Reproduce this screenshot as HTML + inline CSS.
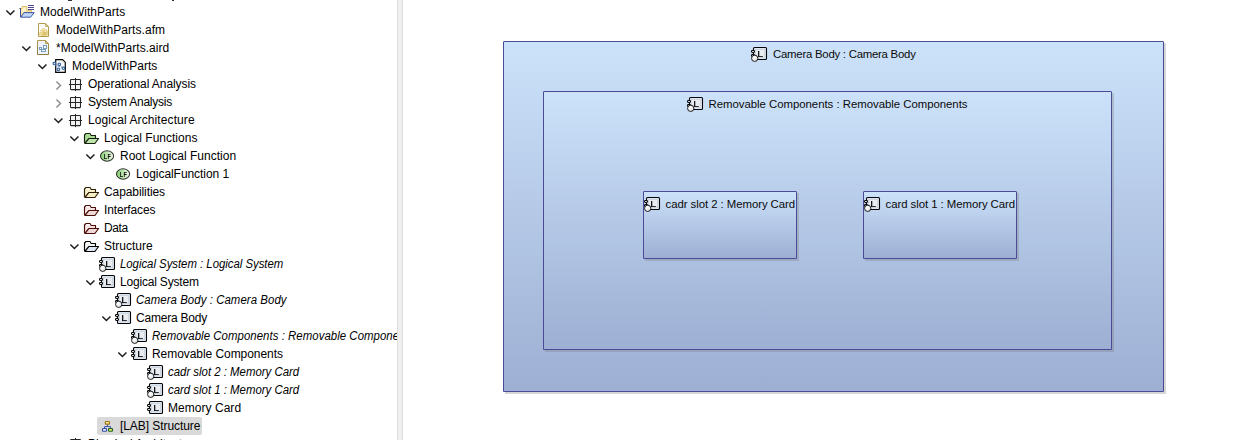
<!DOCTYPE html>
<html lang="en"><head><meta charset="utf-8"><title>ModelWithParts - [LAB] Structure</title>
<style>
html,body{margin:0;padding:0;background:#fff}
body{width:1244px;height:440px;overflow:hidden;position:relative;font-family:"Liberation Sans",sans-serif;font-size:12px;color:#111}
.a{position:absolute;display:block;overflow:visible}
svg.a{will-change:transform}
#tree{position:absolute;left:0;top:0;width:397px;height:440px;overflow:hidden;background:#fff}
.t{position:absolute;white-space:nowrap;height:18px;line-height:18px;font-size:12px;color:#000}
.i{font-style:italic;transform:scaleX(.95);transform-origin:0 0}
#sel{position:absolute;left:97px;top:417px;width:105px;height:18px;background:#d9d9d9;border-radius:2px}
#sash{position:absolute;left:397px;top:0;width:6px;height:440px;background:#efefed;border-left:1px solid #dfdfdf;border-right:1px solid #dcdcdc;box-sizing:border-box}
.box{position:absolute;box-sizing:border-box;border:1px solid #4a4a97;border-radius:1px 1px 0 0;box-shadow:2px 2px 0 rgba(118,118,118,.3)}
.lbl{position:absolute;white-space:nowrap;font-size:11.4px;line-height:16px;height:16px;color:#0a0a0a}
</style></head><body>
<div id="tree">
<div id="sel"></div>

<div class="a" style="left:68px;top:0;width:4px;height:1px;background:#1a1a1a;opacity:.9"></div><div class="a" style="left:172px;top:0;width:2px;height:1px;background:#1a1a1a;opacity:.9"></div>
<svg class="a" style="left:2px;top:5px" width="16" height="16" viewBox="0 0 16 16"><polyline points="4.35,5.55 8.4,9.55 12.45,5.55" fill="none" stroke="#1c1c1c" stroke-width="1.5"/></svg>
<svg class="a" style="left:19px;top:4px" width="16" height="16" viewBox="0 0 16 16"><path d="M1.5 12.8V4.5H3.2V2.5H7.8V6.6H12.6V8.5H5.5Z" fill="#fbe9a4" stroke="#dcbc68" stroke-width="1"/> <path d="M3.8 3.6H7V7.4H2.6V5.4H3.8Z" fill="#fff5cc" stroke="none"/> <path d="M0.4 4.5H2" stroke="#6a5a5a" stroke-width="1" fill="none"/> <path d="M1.5 5V13" stroke="#3c4aa4" stroke-width="1" fill="none"/> <path d="M4.9 8.6H15.2L11.6 13.2H1.9Z" fill="#bcd8f6" stroke="#3444a2" stroke-width=".9" stroke-linejoin="round"/> <path d="M9 1.5H15M9 3.5H15M9 5.5H15" stroke="#4b4a92" stroke-width="1" fill="none"/></svg>
<div class="t" style="left:40px;top:3px;letter-spacing:0.04px">ModelWithParts</div>
<svg class="a" style="left:35px;top:22px" width="16" height="16" viewBox="0 0 16 16"><path d="M3.5 1.5H10.5L13.5 4.5V14.5H3.5Z" fill="#fcfcfa" stroke="#b39c50" stroke-width="1"/> <path d="M10.5 1.5V4.5H13.5Z" fill="#ecdca0" stroke="#b39c50" stroke-width=".8"/> <path d="M4.2 14V11L5.4 8.6L7.6 6.2L9 5.8L10.4 7.2L12 7.6L12.9 9.4V14Z" fill="#e6d086" stroke="none"/> <path d="M7 7.4L8.6 6.6L9.8 7.6L8.2 8.6Z" fill="#f6edc6"/> <path d="M5.4 9.4H7M9.6 9H11.4M4.6 13.5H6M11.6 13.5H12.8" stroke="#fbf7e6" stroke-width="1" fill="none"/> <path d="M8.2 10H11V13H8.2Z" fill="#dcc26c"/> <path d="M5.4 10.6H7.4V12.6H5.4Z" fill="#eddc9c"/></svg>
<div class="t" style="left:56px;top:21px;letter-spacing:0.06px">ModelWithParts.afm</div>
<svg class="a" style="left:18px;top:41px" width="16" height="16" viewBox="0 0 16 16"><polyline points="4.35,5.55 8.4,9.55 12.45,5.55" fill="none" stroke="#1c1c1c" stroke-width="1.5"/></svg>
<svg class="a" style="left:35px;top:40px" width="16" height="16" viewBox="0 0 16 16"><defs><linearGradient id="ag3" x1="0" y1="0" x2="0" y2="1"><stop offset="0" stop-color="#b09848"/><stop offset="1" stop-color="#8a7c40"/></linearGradient></defs> <path d="M2.5 0.5H10.5L13.5 3.5V14.5H2.5Z" fill="#eef3fb" stroke="url(#ag3)" stroke-width="1"/> <path d="M10.5 0.5V3.5H13.5Z" fill="#e2cc84" stroke="#a89040" stroke-width=".8"/> <rect x="8.5" y="5.5" width="3" height="3" fill="#f9fbfd" stroke="#6f9abd" stroke-width=".95"/> <rect x="4.5" y="7.5" width="2" height="2" fill="#f9fbfd" stroke="#6f9abd" stroke-width=".95"/> <rect x="6.5" y="9.5" width="4" height="2" fill="#f9fbfd" stroke="#6f9abd" stroke-width=".95"/></svg>
<div class="t" style="left:56px;top:39px;letter-spacing:0.02px">*ModelWithParts.aird</div>
<svg class="a" style="left:34px;top:59px" width="16" height="16" viewBox="0 0 16 16"><polyline points="4.35,5.55 8.4,9.55 12.45,5.55" fill="none" stroke="#1c1c1c" stroke-width="1.5"/></svg>
<svg class="a" style="left:51px;top:58px" width="16" height="16" viewBox="0 0 16 16"><path d="M4.7 1.7H11.6L14.3 4.4V14.3H4.7Z" fill="#f7fafd" stroke="#050505" stroke-width="1.2"/> <path d="M11.4 2.4V4.6H13.6Z" fill="#d8d2b8" stroke="none"/> <path d="M3.3 5.5L12.4 10.3M8.3 6.4L7.4 11.4M3.3 5.5L7.4 11.4M8.3 6.4L12.4 10.3" stroke="#5a86ba" stroke-width=".9" stroke-dasharray="1 .8" fill="none"/> <rect x="2.1" y="4.3" width="2.4" height="2.4" rx=".9" fill="#f0f5fb" stroke="#3a68a0" stroke-width="1.15"/> <rect x="7.1" y="5.2" width="2.4" height="2.4" rx=".9" fill="#f0f5fb" stroke="#3a68a0" stroke-width="1.15"/> <rect x="6.2" y="10.2" width="2.4" height="2.4" rx=".9" fill="#f0f5fb" stroke="#3a68a0" stroke-width="1.15"/> <rect x="11.2" y="9.1" width="2.4" height="2.4" rx=".9" fill="#f0f5fb" stroke="#3a68a0" stroke-width="1.15"/></svg>
<div class="t" style="left:72px;top:57px;letter-spacing:0.05px">ModelWithParts</div>
<svg class="a" style="left:50px;top:77px" width="16" height="16" viewBox="0 0 16 16"><polyline points="6.4,4.4 10.5,8.45 6.4,12.5" fill="none" stroke="#8e8e8e" stroke-width="1.45"/></svg>
<svg class="a" style="left:67px;top:76px" width="16" height="16" viewBox="0 0 16 16"><rect x="3.5" y="3.5" width="10" height="10.1" rx=".6" fill="#f4f4f4" stroke="#262626" stroke-width="1.05"/> <path d="M8.5 1.9V15.1M1.9 8.5H15" stroke="#262626" stroke-width="1" fill="none"/></svg>
<div class="t" style="left:88px;top:75px;letter-spacing:-0.07px">Operational Analysis</div>
<svg class="a" style="left:50px;top:95px" width="16" height="16" viewBox="0 0 16 16"><polyline points="6.4,4.4 10.5,8.45 6.4,12.5" fill="none" stroke="#8e8e8e" stroke-width="1.45"/></svg>
<svg class="a" style="left:67px;top:94px" width="16" height="16" viewBox="0 0 16 16"><rect x="3.5" y="3.5" width="10" height="10.1" rx=".6" fill="#f4f4f4" stroke="#262626" stroke-width="1.05"/> <path d="M8.5 1.9V15.1M1.9 8.5H15" stroke="#262626" stroke-width="1" fill="none"/></svg>
<div class="t" style="left:88px;top:93px;letter-spacing:-0.22px">System Analysis</div>
<svg class="a" style="left:50px;top:113px" width="16" height="16" viewBox="0 0 16 16"><polyline points="4.35,5.55 8.4,9.55 12.45,5.55" fill="none" stroke="#1c1c1c" stroke-width="1.5"/></svg>
<svg class="a" style="left:67px;top:112px" width="16" height="16" viewBox="0 0 16 16"><rect x="3.5" y="3.5" width="10" height="10.1" rx=".6" fill="#f4f4f4" stroke="#262626" stroke-width="1.05"/> <path d="M8.5 1.9V15.1M1.9 8.5H15" stroke="#262626" stroke-width="1" fill="none"/></svg>
<div class="t" style="left:88px;top:111px;letter-spacing:0.1px">Logical Architecture</div>
<svg class="a" style="left:66px;top:131px" width="16" height="16" viewBox="0 0 16 16"><polyline points="4.35,5.55 8.4,9.55 12.45,5.55" fill="none" stroke="#1c1c1c" stroke-width="1.5"/></svg>
<svg class="a" style="left:83px;top:130px" width="16" height="16" viewBox="0 0 16 16"><path d="M1.5 12.6V5L3 3.5H7L8.2 5.5H12.5V8.5H5.9L2 13.2Z" fill="#a8d992" stroke="#16200f" stroke-width="1.15" stroke-linejoin="round"/> <path d="M3.2 4.3H6.8L7.4 5.3H3Z" fill="#b6e0a2" stroke="none"/> <path d="M5.9 8.5H15.6L11.9 13.5H2.1Z" fill="#bfe3ad" stroke="#16200f" stroke-width="1.15" stroke-linejoin="round"/></svg>
<div class="t" style="left:104px;top:129px">Logical Functions</div>
<svg class="a" style="left:82px;top:149px" width="16" height="16" viewBox="0 0 16 16"><polyline points="4.35,5.55 8.4,9.55 12.45,5.55" fill="none" stroke="#1c1c1c" stroke-width="1.5"/></svg>
<svg class="a" style="left:99px;top:148px" width="16" height="16" viewBox="0 0 16 16"><defs><linearGradient id="lfg9" x1="0" y1="0" x2="1" y2="0"><stop offset="0" stop-color="#86cf72"/><stop offset=".45" stop-color="#b6e0a8"/><stop offset="1" stop-color="#f4faf0"/></linearGradient></defs> <ellipse cx="8.05" cy="8" rx="6.55" ry="5.2" fill="url(#lfg9)" stroke="#2c302c" stroke-width="1.05"/> <text transform="translate(4.7 10.7) scale(.8 1)" font-family="Liberation Sans, sans-serif" font-size="6.9" font-weight="bold" fill="#0a0a0a" letter-spacing="0.6">LF</text></svg>
<div class="t" style="left:120px;top:147px">Root Logical Function</div>
<svg class="a" style="left:115px;top:166px" width="16" height="16" viewBox="0 0 16 16"><defs><linearGradient id="lfg10" x1="0" y1="0" x2="1" y2="0"><stop offset="0" stop-color="#86cf72"/><stop offset=".45" stop-color="#b6e0a8"/><stop offset="1" stop-color="#f4faf0"/></linearGradient></defs> <ellipse cx="8.05" cy="8" rx="6.55" ry="5.2" fill="url(#lfg10)" stroke="#2c302c" stroke-width="1.05"/> <text transform="translate(4.7 10.7) scale(.8 1)" font-family="Liberation Sans, sans-serif" font-size="6.9" font-weight="bold" fill="#0a0a0a" letter-spacing="0.6">LF</text></svg>
<div class="t" style="left:136px;top:165px;letter-spacing:-0.06px">LogicalFunction 1</div>
<svg class="a" style="left:83px;top:184px" width="16" height="16" viewBox="0 0 16 16"><path d="M1.5 12.6V5L3 3.5H7L8.2 5.5H12.5V8.5H5.9L2 13.2Z" fill="#f6f1cc" stroke="#2e1c04" stroke-width="1.15" stroke-linejoin="round"/> <path d="M3.2 4.3H6.8L7.4 5.3H3Z" fill="#ffffff" stroke="none"/> <path d="M5.9 8.5H15.6L11.9 13.5H2.1Z" fill="#f3eec4" stroke="#2e1c04" stroke-width="1.15" stroke-linejoin="round"/></svg>
<div class="t" style="left:104px;top:183px;letter-spacing:-0.09px">Capabilities</div>
<svg class="a" style="left:83px;top:202px" width="16" height="16" viewBox="0 0 16 16"><path d="M1.5 12.6V5L3 3.5H7L8.2 5.5H12.5V8.5H5.9L2 13.2Z" fill="#f4e3e3" stroke="#4a0c06" stroke-width="1.15" stroke-linejoin="round"/> <path d="M3.2 4.3H6.8L7.4 5.3H3Z" fill="#ffffff" stroke="none"/> <path d="M5.9 8.5H15.6L11.9 13.5H2.1Z" fill="#efd8d8" stroke="#4a0c06" stroke-width="1.15" stroke-linejoin="round"/></svg>
<div class="t" style="left:104px;top:201px;letter-spacing:-0.14px">Interfaces</div>
<svg class="a" style="left:83px;top:220px" width="16" height="16" viewBox="0 0 16 16"><path d="M1.5 12.6V5L3 3.5H7L8.2 5.5H12.5V8.5H5.9L2 13.2Z" fill="#f4e3e3" stroke="#4a0c06" stroke-width="1.15" stroke-linejoin="round"/> <path d="M3.2 4.3H6.8L7.4 5.3H3Z" fill="#ffffff" stroke="none"/> <path d="M5.9 8.5H15.6L11.9 13.5H2.1Z" fill="#efd8d8" stroke="#4a0c06" stroke-width="1.15" stroke-linejoin="round"/></svg>
<div class="t" style="left:104px;top:219px;letter-spacing:-0.4px">Data</div>
<svg class="a" style="left:66px;top:239px" width="16" height="16" viewBox="0 0 16 16"><polyline points="4.35,5.55 8.4,9.55 12.45,5.55" fill="none" stroke="#1c1c1c" stroke-width="1.5"/></svg>
<svg class="a" style="left:83px;top:238px" width="16" height="16" viewBox="0 0 16 16"><path d="M1.5 12.6V5L3 3.5H7L8.2 5.5H12.5V8.5H5.9L2 13.2Z" fill="#f1f3f5" stroke="#000000" stroke-width="1.15" stroke-linejoin="round"/> <path d="M3.2 4.3H6.8L7.4 5.3H3Z" fill="#ffffff" stroke="none"/> <path d="M5.9 8.5H15.6L11.9 13.5H2.1Z" fill="#dde6f3" stroke="#000000" stroke-width="1.15" stroke-linejoin="round"/></svg>
<div class="t" style="left:104px;top:237px">Structure</div>
<svg class="a" style="left:99px;top:256px" width="16" height="16" viewBox="0 0 16 16"><rect x="2.5" y="1.5" width="13" height="12" rx="1" fill="#dde7f3" stroke="#050505" stroke-width="1.1"/> <rect x="4.5" y="3.5" width="9" height="8" fill="#e9edf1" stroke="#cfd6dd" stroke-width="1"/> <text transform="translate(6.3 10.95) scale(1.06 1)" font-family="Liberation Sans, sans-serif" font-size="9.9" fill="#000" stroke="#000" stroke-width=".22">L</text> <defs><radialGradient id="pg15" cx=".4" cy=".35" r=".75"><stop offset="0" stop-color="#ffffff"/><stop offset="1" stop-color="#dcdcdc"/></radialGradient></defs> <rect x="0.5" y="4.5" width="3" height="2" rx=".9" fill="#fff" stroke="#050505" stroke-width="1.1"/> <rect x="0.5" y="8.5" width="3" height="2" rx=".9" fill="#fff" stroke="#050505" stroke-width="1.1"/> <circle cx="3.7" cy="12.3" r="3.15" fill="url(#pg15)" stroke="#0a0a0a" stroke-width=".9"/></svg>
<div class="t i" style="left:120px;top:255px;letter-spacing:-0.03px">Logical System : Logical System</div>
<svg class="a" style="left:82px;top:275px" width="16" height="16" viewBox="0 0 16 16"><polyline points="4.35,5.55 8.4,9.55 12.45,5.55" fill="none" stroke="#1c1c1c" stroke-width="1.5"/></svg>
<svg class="a" style="left:99px;top:274px" width="16" height="16" viewBox="0 0 16 16"><rect x="2.5" y="1.5" width="13" height="12" rx="1" fill="#dde7f3" stroke="#050505" stroke-width="1.1"/> <rect x="4.5" y="3.5" width="9" height="8" fill="#e9edf1" stroke="#cfd6dd" stroke-width="1"/> <text transform="translate(6.3 10.95) scale(1.06 1)" font-family="Liberation Sans, sans-serif" font-size="9.9" fill="#000" stroke="#000" stroke-width=".22">L</text> <rect x="0.5" y="4.5" width="3" height="2" rx=".9" fill="#fff" stroke="#050505" stroke-width="1.1"/> <rect x="0.5" y="8.5" width="3" height="2" rx=".9" fill="#fff" stroke="#050505" stroke-width="1.1"/></svg>
<div class="t" style="left:120px;top:273px;letter-spacing:-0.19px">Logical System</div>
<svg class="a" style="left:115px;top:292px" width="16" height="16" viewBox="0 0 16 16"><rect x="2.5" y="1.5" width="13" height="12" rx="1" fill="#dde7f3" stroke="#050505" stroke-width="1.1"/> <rect x="4.5" y="3.5" width="9" height="8" fill="#e9edf1" stroke="#cfd6dd" stroke-width="1"/> <text transform="translate(6.3 10.95) scale(1.06 1)" font-family="Liberation Sans, sans-serif" font-size="9.9" fill="#000" stroke="#000" stroke-width=".22">L</text> <defs><radialGradient id="pg17" cx=".4" cy=".35" r=".75"><stop offset="0" stop-color="#ffffff"/><stop offset="1" stop-color="#dcdcdc"/></radialGradient></defs> <rect x="0.5" y="4.5" width="3" height="2" rx=".9" fill="#fff" stroke="#050505" stroke-width="1.1"/> <rect x="0.5" y="8.5" width="3" height="2" rx=".9" fill="#fff" stroke="#050505" stroke-width="1.1"/> <circle cx="3.7" cy="12.3" r="3.15" fill="url(#pg17)" stroke="#0a0a0a" stroke-width=".9"/></svg>
<div class="t i" style="left:136px;top:291px;letter-spacing:0.07px">Camera Body : Camera Body</div>
<svg class="a" style="left:98px;top:311px" width="16" height="16" viewBox="0 0 16 16"><polyline points="4.35,5.55 8.4,9.55 12.45,5.55" fill="none" stroke="#1c1c1c" stroke-width="1.5"/></svg>
<svg class="a" style="left:115px;top:310px" width="16" height="16" viewBox="0 0 16 16"><rect x="2.5" y="1.5" width="13" height="12" rx="1" fill="#dde7f3" stroke="#050505" stroke-width="1.1"/> <rect x="4.5" y="3.5" width="9" height="8" fill="#e9edf1" stroke="#cfd6dd" stroke-width="1"/> <text transform="translate(6.3 10.95) scale(1.06 1)" font-family="Liberation Sans, sans-serif" font-size="9.9" fill="#000" stroke="#000" stroke-width=".22">L</text> <rect x="0.5" y="4.5" width="3" height="2" rx=".9" fill="#fff" stroke="#050505" stroke-width="1.1"/> <rect x="0.5" y="8.5" width="3" height="2" rx=".9" fill="#fff" stroke="#050505" stroke-width="1.1"/></svg>
<div class="t" style="left:136px;top:309px;letter-spacing:-0.22px">Camera Body</div>
<svg class="a" style="left:131px;top:328px" width="16" height="16" viewBox="0 0 16 16"><rect x="2.5" y="1.5" width="13" height="12" rx="1" fill="#dde7f3" stroke="#050505" stroke-width="1.1"/> <rect x="4.5" y="3.5" width="9" height="8" fill="#e9edf1" stroke="#cfd6dd" stroke-width="1"/> <text transform="translate(6.3 10.95) scale(1.06 1)" font-family="Liberation Sans, sans-serif" font-size="9.9" fill="#000" stroke="#000" stroke-width=".22">L</text> <defs><radialGradient id="pg19" cx=".4" cy=".35" r=".75"><stop offset="0" stop-color="#ffffff"/><stop offset="1" stop-color="#dcdcdc"/></radialGradient></defs> <rect x="0.5" y="4.5" width="3" height="2" rx=".9" fill="#fff" stroke="#050505" stroke-width="1.1"/> <rect x="0.5" y="8.5" width="3" height="2" rx=".9" fill="#fff" stroke="#050505" stroke-width="1.1"/> <circle cx="3.7" cy="12.3" r="3.15" fill="url(#pg19)" stroke="#0a0a0a" stroke-width=".9"/></svg>
<div class="t i" style="left:152px;top:327px;letter-spacing:0.05px">Removable Components : Removable Components</div>
<svg class="a" style="left:114px;top:347px" width="16" height="16" viewBox="0 0 16 16"><polyline points="4.35,5.55 8.4,9.55 12.45,5.55" fill="none" stroke="#1c1c1c" stroke-width="1.5"/></svg>
<svg class="a" style="left:131px;top:346px" width="16" height="16" viewBox="0 0 16 16"><rect x="2.5" y="1.5" width="13" height="12" rx="1" fill="#dde7f3" stroke="#050505" stroke-width="1.1"/> <rect x="4.5" y="3.5" width="9" height="8" fill="#e9edf1" stroke="#cfd6dd" stroke-width="1"/> <text transform="translate(6.3 10.95) scale(1.06 1)" font-family="Liberation Sans, sans-serif" font-size="9.9" fill="#000" stroke="#000" stroke-width=".22">L</text> <rect x="0.5" y="4.5" width="3" height="2" rx=".9" fill="#fff" stroke="#050505" stroke-width="1.1"/> <rect x="0.5" y="8.5" width="3" height="2" rx=".9" fill="#fff" stroke="#050505" stroke-width="1.1"/></svg>
<div class="t" style="left:152px;top:345px;letter-spacing:-0.06px">Removable Components</div>
<svg class="a" style="left:147px;top:364px" width="16" height="16" viewBox="0 0 16 16"><rect x="2.5" y="1.5" width="13" height="12" rx="1" fill="#dde7f3" stroke="#050505" stroke-width="1.1"/> <rect x="4.5" y="3.5" width="9" height="8" fill="#e9edf1" stroke="#cfd6dd" stroke-width="1"/> <text transform="translate(6.3 10.95) scale(1.06 1)" font-family="Liberation Sans, sans-serif" font-size="9.9" fill="#000" stroke="#000" stroke-width=".22">L</text> <defs><radialGradient id="pg21" cx=".4" cy=".35" r=".75"><stop offset="0" stop-color="#ffffff"/><stop offset="1" stop-color="#dcdcdc"/></radialGradient></defs> <rect x="0.5" y="4.5" width="3" height="2" rx=".9" fill="#fff" stroke="#050505" stroke-width="1.1"/> <rect x="0.5" y="8.5" width="3" height="2" rx=".9" fill="#fff" stroke="#050505" stroke-width="1.1"/> <circle cx="3.7" cy="12.3" r="3.15" fill="url(#pg21)" stroke="#0a0a0a" stroke-width=".9"/></svg>
<div class="t i" style="left:168px;top:363px">cadr slot 2 : Memory Card</div>
<svg class="a" style="left:147px;top:382px" width="16" height="16" viewBox="0 0 16 16"><rect x="2.5" y="1.5" width="13" height="12" rx="1" fill="#dde7f3" stroke="#050505" stroke-width="1.1"/> <rect x="4.5" y="3.5" width="9" height="8" fill="#e9edf1" stroke="#cfd6dd" stroke-width="1"/> <text transform="translate(6.3 10.95) scale(1.06 1)" font-family="Liberation Sans, sans-serif" font-size="9.9" fill="#000" stroke="#000" stroke-width=".22">L</text> <defs><radialGradient id="pg22" cx=".4" cy=".35" r=".75"><stop offset="0" stop-color="#ffffff"/><stop offset="1" stop-color="#dcdcdc"/></radialGradient></defs> <rect x="0.5" y="4.5" width="3" height="2" rx=".9" fill="#fff" stroke="#050505" stroke-width="1.1"/> <rect x="0.5" y="8.5" width="3" height="2" rx=".9" fill="#fff" stroke="#050505" stroke-width="1.1"/> <circle cx="3.7" cy="12.3" r="3.15" fill="url(#pg22)" stroke="#0a0a0a" stroke-width=".9"/></svg>
<div class="t i" style="left:168px;top:381px">card slot 1 : Memory Card</div>
<svg class="a" style="left:147px;top:400px" width="16" height="16" viewBox="0 0 16 16"><rect x="2.5" y="1.5" width="13" height="12" rx="1" fill="#dde7f3" stroke="#050505" stroke-width="1.1"/> <rect x="4.5" y="3.5" width="9" height="8" fill="#e9edf1" stroke="#cfd6dd" stroke-width="1"/> <text transform="translate(6.3 10.95) scale(1.06 1)" font-family="Liberation Sans, sans-serif" font-size="9.9" fill="#000" stroke="#000" stroke-width=".22">L</text> <rect x="0.5" y="4.5" width="3" height="2" rx=".9" fill="#fff" stroke="#050505" stroke-width="1.1"/> <rect x="0.5" y="8.5" width="3" height="2" rx=".9" fill="#fff" stroke="#050505" stroke-width="1.1"/></svg>
<div class="t" style="left:168px;top:399px;letter-spacing:0.04px">Memory Card</div>
<svg class="a" style="left:99px;top:418px" width="16" height="16" viewBox="0 0 16 16"><path d="M8.4 6.5V8.6M5.5 10.2V8.6H11.5V10.2" fill="none" stroke="#3a52b0" stroke-width="1"/> <rect x="6.3" y="3.5" width="4.2" height="2.6" rx=".7" fill="#fdf0a0" stroke="#9c7210" stroke-width="1.1"/> <rect x="3.5" y="10.5" width="4" height="2.7" rx=".8" fill="#e6f2fb" stroke="#3448a8" stroke-width="1.1"/> <rect x="9.5" y="10.5" width="4" height="2.7" rx=".8" fill="#d9e85c" stroke="#1f621f" stroke-width="1.1"/></svg>
<div class="t" style="left:120px;top:417px;letter-spacing:-0.07px">[LAB] Structure</div>
<svg class="a" style="left:50px;top:437px" width="16" height="16" viewBox="0 0 16 16"><polyline points="6.4,4.4 10.5,8.45 6.4,12.5" fill="none" stroke="#8e8e8e" stroke-width="1.45"/></svg>
<svg class="a" style="left:67px;top:436px" width="16" height="16" viewBox="0 0 16 16"><rect x="3.5" y="3.5" width="10" height="10.1" rx=".6" fill="#f4f4f4" stroke="#262626" stroke-width="1.05"/> <path d="M8.5 1.9V15.1M1.9 8.5H15" stroke="#262626" stroke-width="1" fill="none"/></svg>
<div class="t" style="left:88px;top:435px">Physical Architecture</div>
</div>
<div id="sash"></div>

<div class="box" style="left:503px;top:41px;width:661px;height:351px;background:linear-gradient(to bottom,#cce2fa 0%,#9dafd3 100%)"></div>
<div class="box" style="left:543px;top:91px;width:569px;height:259px;background:linear-gradient(to bottom,#cce2fa 0%,#9dafd3 100%)"></div>
<div class="box" style="left:643px;top:191px;width:154px;height:68px;background:linear-gradient(to bottom,#cce2fa 0%,#9dafd3 100%)"></div>
<div class="box" style="left:863px;top:191px;width:154px;height:68px;background:linear-gradient(to bottom,#cce2fa 0%,#9dafd3 100%)"></div>
<svg class="a" style="left:751px;top:46px" width="16" height="16" viewBox="0 0 16 16"><rect x="2.5" y="1.5" width="13" height="12" rx="1" fill="#dde7f3" stroke="#050505" stroke-width="1.1"/> <rect x="4.5" y="3.5" width="9" height="8" fill="#e9edf1" stroke="#cfd6dd" stroke-width="1"/> <text transform="translate(6.3 10.95) scale(1.06 1)" font-family="Liberation Sans, sans-serif" font-size="9.9" fill="#000" stroke="#000" stroke-width=".22">L</text> <defs><radialGradient id="pg26" cx=".4" cy=".35" r=".75"><stop offset="0" stop-color="#ffffff"/><stop offset="1" stop-color="#dcdcdc"/></radialGradient></defs> <rect x="0.5" y="4.5" width="3" height="2" rx=".9" fill="#fff" stroke="#050505" stroke-width="1.1"/> <rect x="0.5" y="8.5" width="3" height="2" rx=".9" fill="#fff" stroke="#050505" stroke-width="1.1"/> <circle cx="3.7" cy="12.3" r="3.15" fill="url(#pg26)" stroke="#0a0a0a" stroke-width=".9"/></svg><div class="lbl" style="left:773px;top:46px;letter-spacing:-0.247px">Camera Body : Camera Body</div>
<svg class="a" style="left:687px;top:96px" width="16" height="16" viewBox="0 0 16 16"><rect x="2.5" y="1.5" width="13" height="12" rx="1" fill="#dde7f3" stroke="#050505" stroke-width="1.1"/> <rect x="4.5" y="3.5" width="9" height="8" fill="#e9edf1" stroke="#cfd6dd" stroke-width="1"/> <text transform="translate(6.3 10.95) scale(1.06 1)" font-family="Liberation Sans, sans-serif" font-size="9.9" fill="#000" stroke="#000" stroke-width=".22">L</text> <defs><radialGradient id="pg27" cx=".4" cy=".35" r=".75"><stop offset="0" stop-color="#ffffff"/><stop offset="1" stop-color="#dcdcdc"/></radialGradient></defs> <rect x="0.5" y="4.5" width="3" height="2" rx=".9" fill="#fff" stroke="#050505" stroke-width="1.1"/> <rect x="0.5" y="8.5" width="3" height="2" rx=".9" fill="#fff" stroke="#050505" stroke-width="1.1"/> <circle cx="3.7" cy="12.3" r="3.15" fill="url(#pg27)" stroke="#0a0a0a" stroke-width=".9"/></svg><div class="lbl" style="left:708.5px;top:96px;letter-spacing:-0.029px">Removable Components : Removable Components</div>
<svg class="a" style="left:644px;top:196px" width="16" height="16" viewBox="0 0 16 16"><rect x="2.5" y="1.5" width="13" height="12" rx="1" fill="#dde7f3" stroke="#050505" stroke-width="1.1"/> <rect x="4.5" y="3.5" width="9" height="8" fill="#e9edf1" stroke="#cfd6dd" stroke-width="1"/> <text transform="translate(6.3 10.95) scale(1.06 1)" font-family="Liberation Sans, sans-serif" font-size="9.9" fill="#000" stroke="#000" stroke-width=".22">L</text> <defs><radialGradient id="pg28" cx=".4" cy=".35" r=".75"><stop offset="0" stop-color="#ffffff"/><stop offset="1" stop-color="#dcdcdc"/></radialGradient></defs> <rect x="0.5" y="4.5" width="3" height="2" rx=".9" fill="#fff" stroke="#050505" stroke-width="1.1"/> <rect x="0.5" y="8.5" width="3" height="2" rx=".9" fill="#fff" stroke="#050505" stroke-width="1.1"/> <circle cx="3.7" cy="12.3" r="3.15" fill="url(#pg28)" stroke="#0a0a0a" stroke-width=".9"/></svg><div class="lbl" style="left:665.6px;top:196px;letter-spacing:-0.063px">cadr slot 2 : Memory Card</div>
<svg class="a" style="left:864px;top:196px" width="16" height="16" viewBox="0 0 16 16"><rect x="2.5" y="1.5" width="13" height="12" rx="1" fill="#dde7f3" stroke="#050505" stroke-width="1.1"/> <rect x="4.5" y="3.5" width="9" height="8" fill="#e9edf1" stroke="#cfd6dd" stroke-width="1"/> <text transform="translate(6.3 10.95) scale(1.06 1)" font-family="Liberation Sans, sans-serif" font-size="9.9" fill="#000" stroke="#000" stroke-width=".22">L</text> <defs><radialGradient id="pg29" cx=".4" cy=".35" r=".75"><stop offset="0" stop-color="#ffffff"/><stop offset="1" stop-color="#dcdcdc"/></radialGradient></defs> <rect x="0.5" y="4.5" width="3" height="2" rx=".9" fill="#fff" stroke="#050505" stroke-width="1.1"/> <rect x="0.5" y="8.5" width="3" height="2" rx=".9" fill="#fff" stroke="#050505" stroke-width="1.1"/> <circle cx="3.7" cy="12.3" r="3.15" fill="url(#pg29)" stroke="#0a0a0a" stroke-width=".9"/></svg><div class="lbl" style="left:885.6px;top:196px;letter-spacing:-0.063px">card slot 1 : Memory Card</div>
</body></html>
